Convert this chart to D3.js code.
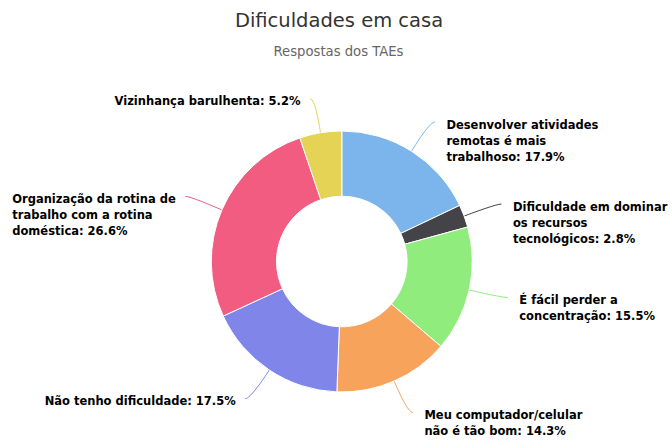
<!DOCTYPE html>
<html>
<head>
<meta charset="utf-8">
<script src="https://cdn.jsdelivr.net/npm/d3@7"></script>
<style>
  html, body { margin: 0; padding: 0; background: #fff; }
  svg { display: block; font-family: "DejaVu Sans", Verdana, sans-serif; }
</style>
</head>
<body>
<svg id="chart" width="672" height="441"></svg>
<script>
// ---- data ----
const categories = [
  "Desenvolver atividades remotas é mais trabalhoso",
  "Dificuldade em dominar os recursos tecnológicos",
  "É fácil perder a concentração",
  "Meu computador/celular não é tão bom",
  "Não tenho dificuldade",
  "Organização da rotina de trabalho com a rotina doméstica",
  "Vizinhança barulhenta"
];
const labelLines = [
  ["Desenvolver atividades", "remotas é mais", "trabalhoso: 17.9%"],
  ["Dificuldade em dominar", "os recursos", "tecnológicos: 2.8%"],
  ["É fácil perder a", "concentração: 15.5%"],
  ["Meu computador/celular", "não é tão bom: 14.3%"],
  ["Não tenho dificuldade: 17.5%"],
  ["Organização da rotina de", "trabalho com a rotina", "doméstica: 26.6%"],
  ["Vizinhança barulhenta: 5.2%"]
];
const values = [17.9, 2.8, 15.5, 14.3, 17.5, 26.6, 5.2];
const colors = ["#7cb5ec", "#434348", "#90ed7d", "#f7a35c", "#8085e9", "#f15c80", "#e4d354"];
const titleText = "Dificuldades em casa";
const subtitleText = "Respostas dos TAEs";

// ---- layout ----
const W = 672, H = 441;
const cx = 341.8, cy = 261.5;
const outerR = 130.5, innerR = 65.3;
const labelR = 165;

const svg = d3.select("#chart");

svg.append("text")
  .attr("x", 339).attr("y", 27)
  .attr("text-anchor", "middle")
  .attr("fill", "#333333")
  .style("font-size", "19.5px")
  .text(titleText);

svg.append("text")
  .attr("x", 338.5).attr("y", 56)
  .attr("text-anchor", "middle")
  .attr("fill", "#666666")
  .style("font-size", "13.2px")
  .text(subtitleText);

const data = categories.map((c, i) => ({ name: c, value: values[i], lines: labelLines[i], color: colors[i] }));

const pie = d3.pie().sort(null).value(d => d.value).startAngle(0).endAngle(2 * Math.PI);
const arcs = pie(data);
const arc = d3.arc().innerRadius(innerR).outerRadius(outerR);

const g = svg.append("g").attr("transform", `translate(${cx},${cy})`);

// connectors and labels
arcs.forEach(a => {
  const mid = (a.startAngle + a.endAngle) / 2;
  const sx = Math.sin(mid), sy = -Math.cos(mid);
  const right = sx >= 0;
  const sign = right ? 1 : -1;
  const ly = labelR * sy;
  const lx = sign * Math.sqrt(Math.max(0, labelR * labelR - ly * ly));
  const ex = outerR * sx, ey = outerR * sy;
  const bx = (outerR + 5) * sx, by = (outerR + 5) * sy;
  const p = d3.path();
  p.moveTo(lx + sign * 5, ly);
  p.bezierCurveTo(lx, ly, 2 * bx - ex, 2 * by - ey, bx, by);
  p.lineTo(ex, ey);
  g.append("path")
    .attr("d", p.toString())
    .attr("fill", "none")
    .attr("stroke", a.data.color)
    .attr("stroke-width", 1);

  const t = g.append("text")
    .attr("text-anchor", "start")
    .attr("fill", "#000000")
    .style("font-size", "11.5px")
    .style("font-weight", "bold");
  const spans = a.data.lines.map((line, k) =>
    t.append("tspan")
      .attr("y", ly + 6.5 + k * 16)
      .text(line));
  let startX;
  if (right) {
    startX = lx + 16.5;
  } else {
    const wmax = d3.max(spans, s => s.node().getComputedTextLength());
    startX = lx - 14.5 - wmax;
  }
  spans.forEach(s => s.attr("x", startX));
});

// slices
g.selectAll("path.slice")
  .data(arcs)
  .join("path")
  .attr("class", "slice")
  .attr("d", arc)
  .attr("fill", d => d.data.color)
  .attr("stroke", "#ffffff")
  .attr("stroke-width", 1)
  .attr("stroke-linejoin", "round");
</script>
</body>
</html>
